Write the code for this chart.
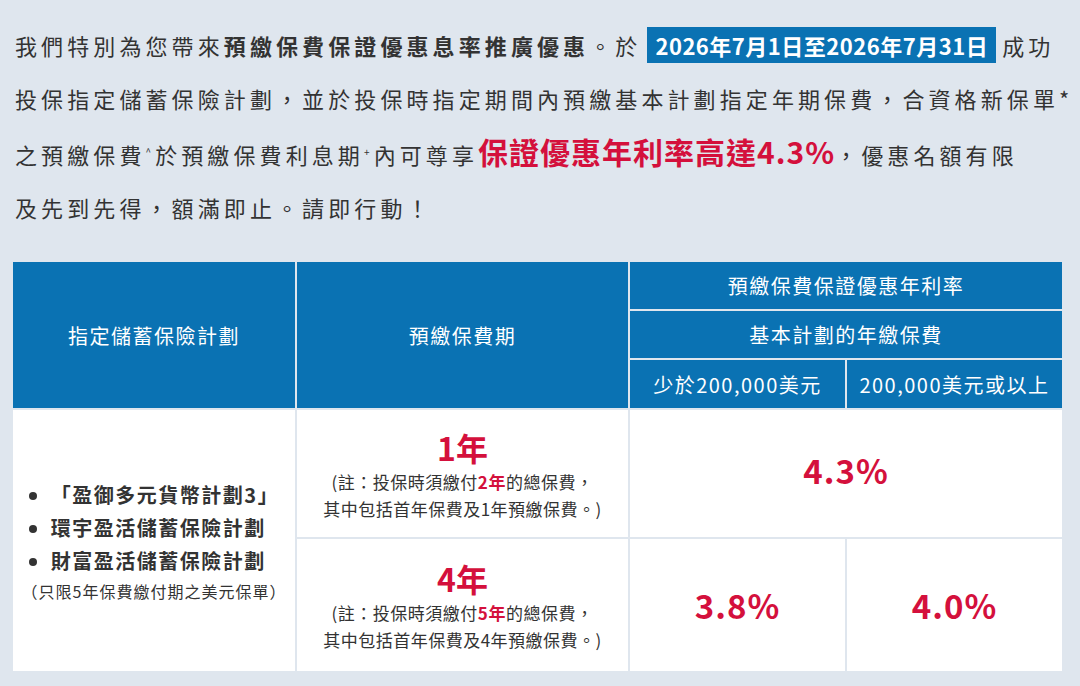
<!DOCTYPE html>
<html><head><meta charset="utf-8">
<script src="https://cdn.jsdelivr.net/npm/chart.js@4"></script>
<style>
body{margin:0;width:1080px;height:686px;background:#dfe6ee;font-family:"Noto Sans CJK TC","Noto Sans",sans-serif;color:#333;overflow:hidden}
#intro{position:absolute;left:15px;top:19px;width:1070px;font-size:22px;line-height:53px;letter-spacing:4.1px;white-space:nowrap}
.hl{background:#0a72b3;color:#fff;font-weight:bold;padding:2px 8px;margin:0 6px;letter-spacing:0.5px}
.big{color:#d4103c;font-weight:bold;font-size:30px;letter-spacing:1px}
#tbl{position:absolute;left:13px;top:262px;width:1047px;height:408px;display:grid;
grid-template-columns:282px 331px 215px 215px;grid-template-rows:47px 47px 48px 127px 132px;gap:2px}
.h{background:#0a72b3;color:#fff;font-size:20px;letter-spacing:1.5px;display:flex;align-items:center;justify-content:center}
.c{background:#fff;display:flex;flex-direction:column;align-items:center;justify-content:center;text-align:center}
.yr{color:#d4103c;font-weight:bold;font-size:32px;line-height:42px}
.note{font-size:17px;line-height:27px;letter-spacing:0.5px}
.note b{color:#d4103c}
.rate{color:#d4103c;font-weight:bold;font-size:33px;letter-spacing:1px}
ul{margin:0;padding-left:22px;text-align:left;font-weight:bold;font-size:20px;line-height:33px;letter-spacing:1.5px}
</style></head><body>
<div id="intro"></div>
<div id="tbl"></div>
<script>
const plans=["「盈御多元貨幣計劃3」","環宇盈活儲蓄保險計劃","財富盈活儲蓄保險計劃"];
const periods=["1年","4年"];
const totalYears=["2年","5年"];
const rateLabels=["少於200,000美元","200,000美元或以上"];
const ratesLow=[4.3,3.8];
const ratesHigh=[4.3,4.0];
document.getElementById('intro').innerHTML='我們特別為您帶來<b>預繳保費保證優惠息率推廣優惠</b>。於<span class="hl">2026年7月1日至2026年7月31日</span>成功<br>投保指定儲蓄保險計劃，並於投保時指定期間內預繳基本計劃指定年期保費，合資格新保單*<br>之預繳保費<sup style="font-size:10px">^</sup>於預繳保費利息期<sup style="font-size:10px">+</sup>內可尊享<span class="big">保證優惠年利率高達4.3%</span>，優惠名額有限<br>及先到先得，額滿即止。請即行動！';
const t=document.getElementById('tbl');
function cell(cls,html,style){const d=document.createElement('div');d.className=cls;d.innerHTML=html;d.style.cssText=style;t.appendChild(d);}
cell('h','指定儲蓄保險計劃','grid-column:1;grid-row:1/4');
cell('h','預繳保費期','grid-column:2;grid-row:1/4');
cell('h','預繳保費保證優惠年利率','grid-column:3/5;grid-row:1');
cell('h','基本計劃的年繳保費','grid-column:3/5;grid-row:2');
cell('h',rateLabels[0],'grid-column:3;grid-row:3');
cell('h',rateLabels[1],'grid-column:4;grid-row:3');
cell('c','<ul>'+plans.map(p=>'<li>'+p+'</li>').join('')+'</ul><div style="font-size:16px;margin-top:2px;letter-spacing:1px">（只限5年保費繳付期之美元保單）</div>','grid-column:1;grid-row:4/6');
periods.forEach((p,i)=>{
 cell('c','<div class="yr">'+p+'</div><div class="note">(註：投保時須繳付<b>'+totalYears[i]+'</b>的總保費，<br>其中包括首年保費及'+p+'預繳保費。)</div>','grid-column:2;grid-row:'+(4+i));
 if(ratesLow[i]===ratesHigh[i]) cell('c','<div class="rate" style="margin-bottom:8px">'+ratesLow[i].toFixed(1)+'%</div>','grid-column:3/5;grid-row:'+(4+i));
 else{cell('c','<div class="rate">'+ratesLow[i].toFixed(1)+'%</div>','grid-column:3;grid-row:'+(4+i));
      cell('c','<div class="rate">'+ratesHigh[i].toFixed(1)+'%</div>','grid-column:4;grid-row:'+(4+i));}
});
</script></body></html>
